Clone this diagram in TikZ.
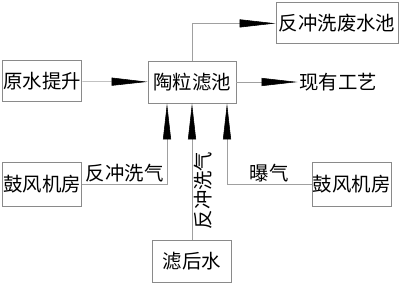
\documentclass[tikz,border=0pt]{standalone}
\usepackage{fontspec}
\setmainfont{Noto Sans CJK SC}
\usetikzlibrary{arrows.meta}
\definecolor{boxgrey}{HTML}{8A8A8A}
\definecolor{linegrey}{HTML}{A0A0A0}

\begin{document}
\begin{tikzpicture}[
    box/.style={
        draw=boxgrey, semithick, fill=white,
        minimum width=#1, inner sep=0pt,
        font=\fontsize{13.8}{16}\selectfont, align=center,
    },
    box/.default=1.975cm,
    arr/.style={draw=linegrey, thin, -{Triangle[length=0.9cm, width=0.2cm, color=black]}},
    lbl/.style={font=\fontsize{13.8}{16}\selectfont, inner sep=1pt},
]
\useasboundingbox (0,0) rectangle (10,7.125);

% ── Main line ──
\node[box, minimum height=1.025cm] (raw) at (1.06, 5.09) {原水提升};
\node[box=2.2cm, minimum height=1.05cm] (filter) at (4.8, 5.075) {陶粒滤池};
\node[lbl] (exist) at (8.45, 5.075) {现有工艺};
\node[box=3.05cm, minimum height=1.025cm] (waste) at (8.425, 6.54) {反冲洗废水池};

% ── Air and water supply ──
\node[box, minimum height=1.1cm] (blowerL) at (1.06, 2.525) {鼓风机房};
\node[box, minimum height=1.1cm] (blowerR) at (8.79, 2.525) {鼓风机房};
\node[box, minimum height=1.05cm] (clear) at (4.8, 0.6) {滤后水};

\coordinate (inL) at ([xshift=-0.625cm]filter.south);
\coordinate (inR) at ([xshift=0.875cm]filter.south);

% ── Arrows ──
\draw[arr] (raw) -- (filter);
\draw[arr] (filter) -- (exist);
\draw[arr] (filter.north) |- (waste.west);
\draw[arr] (blowerL.east) -| node[lbl, pos=0.25, above] {反冲洗气} (inL);
\draw[arr] (blowerR.west) -| node[lbl, pos=0.25, above] {曝气} (inR);
\draw[arr] (clear.north) -- node[lbl, pos=0.36, rotate=90, anchor=north] {反冲洗气} (filter.south);

\end{tikzpicture}
\end{document}
